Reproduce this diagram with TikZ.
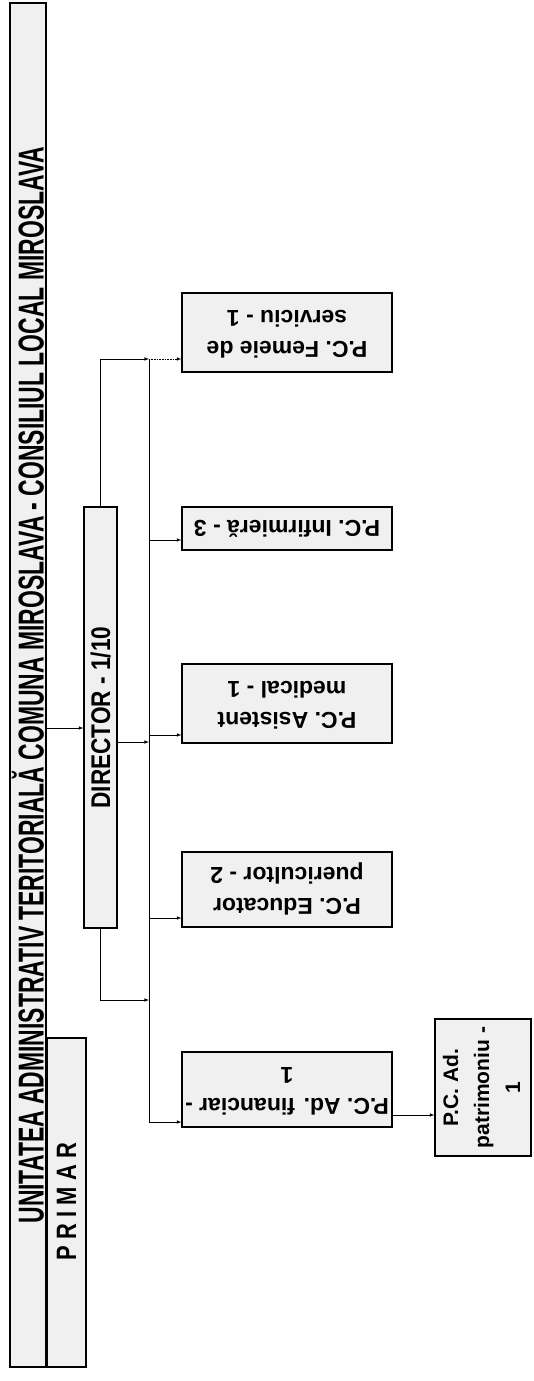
\documentclass[tikz,border=0pt]{standalone}
\usepackage{fontspec}
\setmainfont{Liberation Sans}
\usepackage{graphicx}
\definecolor{boxgray}{gray}{0.94}
\newcommand{\uptext}[1]{\rotatebox{90}{#1}}
\newcommand{\fliptext}[1]{\rotatebox{180}{#1}}
\newcommand{\squeeze}[2]{\resizebox{#1}{\height}{#2}}

\begin{document}
\begin{tikzpicture}[x=1pt,y=-1pt,>=latex,
    unit/.style={draw,line width=1.1pt,fill=boxgray,inner sep=0pt},
    post/.style={unit,minimum width=210pt,font=\fontsize{23}{31}\selectfont\bfseries},
    link/.style={line width=0.6pt}]
  \useasboundingbox (0,0) rectangle (533,1381);

  % header and mayor
  \node[unit,minimum width=36pt,minimum height=1364pt,font=\fontsize{36}{36}\selectfont\bfseries] (council) at (28,685)
    {\uptext{\squeeze{1077pt}{UNITATEA ADMINISTRATIV TERITORIALĂ COMUNA MIROSLAVA - CONSILIUL LOCAL MIROSLAVA}}};
  \node[unit,minimum width=39pt,minimum height=329pt,font=\fontsize{28}{28}\selectfont\bfseries] (primar) at (66.5,1202.5)
    {\uptext{\makebox[329pt][l]{\hspace*{107pt}\squeeze{117pt}{P R I M A R}}}};

  % director
  \node[unit,minimum width=33pt,minimum height=421pt,font=\fontsize{27}{27}\selectfont\bfseries] (director) at (100.5,717.5)
    {\uptext{\squeeze{182pt}{DIRECTOR - 1/10}}};

  % posts
  \node[post,minimum height=79pt] (femeie) at (287,332.5)
    {\fliptext{\begin{tabular}{@{}c@{}}P.C. Femeie de\\ serviciu - 1\end{tabular}}};
  \node[post,minimum height=43pt] (infirm) at (287,528.5)
    {\fliptext{P.C. Infirmieră - 3}};
  \node[post,minimum height=79pt] (asist) at (287,703.5)
    {\fliptext{\begin{tabular}{@{}c@{}}P.C. Asistent\\ medical - 1\end{tabular}}};
  \node[post,minimum height=75pt] (educ) at (287,889.5)
    {\fliptext{\begin{tabular}{@{}c@{}}P.C. Educator\\ puericultor - 2\end{tabular}}};
  \node[post,minimum height=75pt] (financ) at (287,1089.5)
    {\fliptext{\begin{tabular}{@{}c@{}}P.C. Ad. financiar -\\ 1\end{tabular}}};
  \node[unit,minimum width=96pt,minimum height=137pt,font=\fontsize{21}{31}\selectfont\bfseries] (patrim) at (483,1087.5)
    {\uptext{\begin{tabular}{@{}c@{}}P.C. Ad.\\ patrimoniu -\\ 1\end{tabular}}};

  % bus line
  \coordinate (bustop) at (149,359);
  \coordinate (busbot) at (149,1122);
  \draw[link] (bustop) -- (busbot);

  % connectors
  \draw[link,->] (council.east |- 0,728) -- (director.west |- 0,728);
  \draw[link,->] (director.north) |- (bustop);
  \draw[link,->] (director.east |- 0,742) -- (bustop |- 0,742);
  \draw[link,->] (director.south) |- (bustop |- 0,1000);
  \draw[link,->,densely dotted] (bustop) -- (bustop -| femeie.west);
  \foreach \post/\y in {infirm/540,asist/735,educ/918,financ/1122}
    \draw[link,->] (bustop |- 0,\y) -- (\post.west |- 0,\y);
  \draw[link,->] (financ.east |- 0,1115) -- (patrim.west |- 0,1115);
\end{tikzpicture}
\end{document}
